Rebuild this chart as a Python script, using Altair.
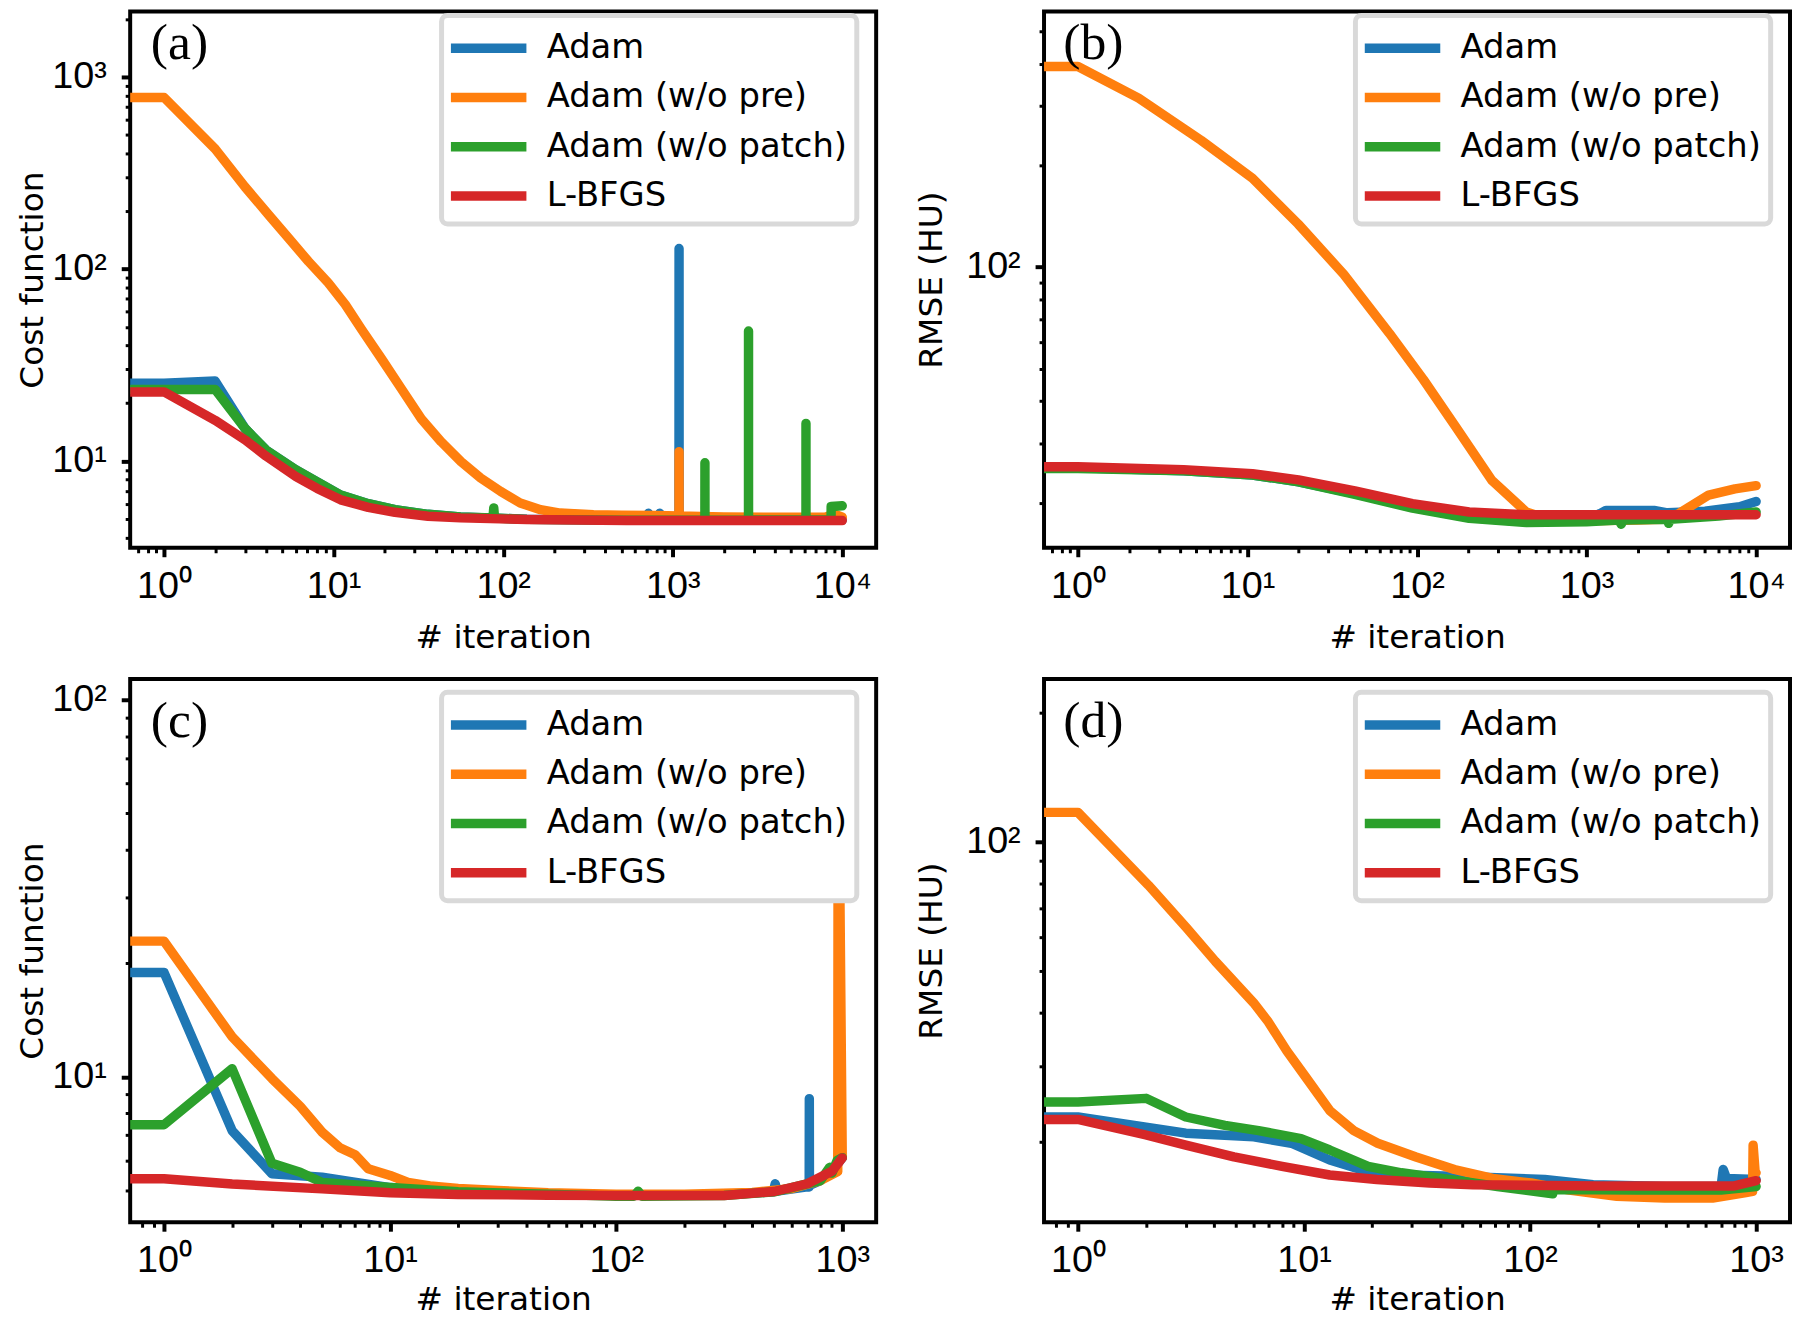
import altair as alt
import pandas as pd

SERIES = ["Adam", "Adam (w/o pre)", "Adam (w/o patch)", "L-BFGS"]
COLORS = ["#1f77b4", "#ff7f0e", "#2ca02c", "#d62728"]
PANEL_TAGS = ["(a)", "(b)", "(c)", "(d)"]
Y_TITLES = ["Cost function", "RMSE (HU)", "Cost function", "RMSE (HU)"]
X_TITLE = "# iteration"
DECADE_LABELS = {1: "10\u2070", 10: "10\u00b9", 100: "10\u00b2", 1000: "10\u00b3", 10000: "10\u2074"}

# ---------------- panel (a): cost function, 10^4 iterations ----------------
A_ADAM_X = [0.5, 1, 2, 3, 4, 6, 8, 11, 16, 23, 36, 56, 138, 534, 700, 720, 740, 820, 840, 860,
            1089, 1090, 1091, 3000, 6000, 10000]
A_ADAM_Y = [25.4, 25.4, 26.1, 14.8, 11.4, 9.0, 7.8, 6.65, 6.0, 5.58, 5.28, 5.12, 4.98, 4.93, 4.93, 5.35, 4.93,
            4.95, 5.35, 4.95, 4.95, 128, 4.95, 4.97, 4.96, 4.93]
A_PRE_X = [0.5, 1, 2, 3, 4.15, 5.44, 7.1, 9.3, 11.7, 14.6, 19.2, 25.1, 32.9, 43.1, 56.4, 73.8, 96.6, 126,
           166, 217, 341, 500, 800, 1089, 1090, 1091, 2000, 4000, 8000, 9000, 10000]
A_PRE_Y = [783, 783, 423, 268, 191, 144.5, 109.6, 84.7, 65.5, 48.6, 34.0, 23.8, 16.6, 12.6, 9.93, 8.15, 6.95,
           6.05, 5.58, 5.36, 5.25, 5.22, 5.2, 5.18, 11.2, 5.18, 5.12, 5.1, 5.12, 5.3, 5.1]
A_PATCH_X = [0.5, 1, 2, 3, 4, 6, 8, 11, 16, 23, 36, 56, 87, 88, 89, 138, 534, 1548, 1549, 1550,
             2799, 2800, 2801, 6109, 6110, 6111, 8590, 8600, 10000]
A_PATCH_Y = [23.6, 23.6, 23.6, 14.8, 11.4, 9.0, 7.8, 6.65, 6.0, 5.58, 5.28, 5.12, 5.05, 5.7, 5.05, 4.97, 4.92,
             4.92, 9.8, 4.92, 4.93, 47.6, 4.93, 4.93, 15.7, 4.93, 4.95, 5.8, 5.85]
A_LBFGS_X = [0.5, 1, 2, 3, 4, 6, 8, 11, 16, 23, 36, 56, 138, 534, 10000]
A_LBFGS_Y = [22.9, 22.9, 16.3, 12.9, 10.6, 8.3, 7.2, 6.28, 5.74, 5.41, 5.16, 5.06, 4.96, 4.90, 4.90]

# ---------------- panel (b): RMSE, 10^4 iterations ----------------
B_ADAM_X = [0.5, 1, 4.2, 10.7, 20, 43, 94, 203, 441, 1000, 1200, 1300, 2500, 3000, 5000, 8000, 10000]
B_ADAM_Y = [25.4, 25.4, 24.9, 24.2, 23.1, 21.3, 19.4, 18.1, 17.6, 17.8, 18.6, 19.0, 19.0, 18.7, 18.9, 19.5, 20.2]
B_PRE_X = [0.5, 1, 2.28, 5.33, 10.7, 19.9, 37, 68.7, 109, 174, 277, 441, 600, 1000, 2000, 2825, 3500,
           5250, 7500, 10000]
B_PRE_Y = [392, 392, 316, 237, 183, 134, 95, 63.6, 46.4, 32.9, 23.3, 18.8, 17.9, 17.7, 17.8, 17.9, 18.6,
           21.1, 22.0, 22.5]
B_PATCH_X = [0.5, 1, 4.2, 10.7, 20, 43, 94, 203, 441, 1000, 1550, 1600, 1650, 3000, 3050, 3100, 6000, 10000]
B_PATCH_Y = [25.3, 25.3, 24.9, 24.2, 23.1, 21.2, 19.3, 18.0, 17.5, 17.6, 17.8, 17.3, 17.8, 17.9, 17.4, 17.9,
             18.3, 18.8]
B_LBFGS_X = [0.5, 1, 4.2, 10.7, 20, 43, 94, 203, 441, 10000]
B_LBFGS_Y = [25.6, 25.6, 25.1, 24.4, 23.4, 21.7, 19.9, 18.8, 18.45, 18.45]

# ---------------- panel (c): cost function, 10^3 iterations ----------------
C_ADAM_X = [0.6, 1, 2, 3, 5, 10, 20, 50, 100, 300, 495, 505, 515, 700, 714, 715, 716, 800, 900, 1000]
C_ADAM_Y = [18.9, 18.9, 7.19, 5.53, 5.41, 5.08, 4.95, 4.88, 4.85, 4.86, 4.95, 5.2, 4.97, 5.1, 5.1, 8.75,
            5.15, 5.3, 5.6, 6.1]
C_PRE_X = [0.6, 1, 2, 3, 4, 5, 6, 7, 8, 10, 12, 15, 20, 30, 50, 100, 200, 400, 600, 800, 955, 960, 1000]
C_PRE_Y = [22.9, 22.9, 12.76, 9.89, 8.35, 7.13, 6.48, 6.21, 5.70, 5.47, 5.24, 5.13, 5.05, 4.99, 4.92, 4.88,
           4.88, 4.93, 5.05, 5.3, 5.6, 95, 6.2]
C_PATCH_X = [0.6, 1, 2, 3, 4, 5, 10, 20, 50, 100, 120, 125, 130, 300, 500, 800, 880, 900, 950, 1000]
C_PATCH_Y = [7.46, 7.46, 10.5, 5.89, 5.58, 5.24, 5.08, 4.95, 4.88, 4.82, 4.82, 4.97, 4.82, 4.84, 4.95, 5.3,
             5.75, 5.55, 6.0, 6.1]
C_LBFGS_X = [0.6, 1, 2, 5, 10, 20, 50, 100, 300, 500, 700, 900, 1000]
C_LBFGS_Y = [5.36, 5.36, 5.19, 5.04, 4.92, 4.87, 4.85, 4.84, 4.84, 4.96, 5.2, 5.61, 6.09]

# ---------------- panel (d): RMSE, 10^3 iterations ----------------
D_ADAM_X = [0.6, 1, 2, 3, 6, 8.8, 13, 19.2, 27, 46, 116, 190, 400, 700, 715, 740, 1000]
D_ADAM_Y = [22.8, 22.8, 21.6, 20.9, 20.5, 19.8, 18.1, 17.0, 16.7, 16.6, 16.3, 15.85, 15.7, 15.7, 17.2, 16.4, 16.3]
D_PRE_X = [0.6, 1, 2.05, 3.03, 4.05, 5.98, 6.9, 8.4, 10.2, 13, 16.6, 21.2, 31.3, 46.3, 68.3, 101, 149, 242,
           394, 642, 902, 965, 970, 990, 1000]
D_PRE_Y = [116.9, 116.9, 79.1, 62.8, 52.6, 42.1, 38.2, 32.5, 28.2, 23.6, 21.2, 19.8, 18.4, 17.2, 16.4, 16.0,
           15.4, 14.9, 14.76, 14.76, 15.2, 15.3, 19.6, 17.0, 16.9]
D_PATCH_X = [0.6, 1, 2, 3, 4.47, 6.3, 9.7, 13, 19.2, 27, 44, 71.8, 126, 127, 300, 700, 1000]
D_PATCH_Y = [24.7, 24.7, 25.2, 22.8, 21.8, 21.2, 20.3, 19.1, 17.5, 16.9, 16.3, 15.7, 15.1, 15.45, 15.4, 15.4, 15.7]
D_LBFGS_X = [0.6, 1, 2, 3, 4.9, 8, 13, 21, 36, 56, 200, 800, 1000]
D_LBFGS_Y = [22.5, 22.5, 20.7, 19.6, 18.4, 17.5, 16.7, 16.3, 16.0, 15.85, 15.75, 15.75, 16.2]

# axis ranges of each panel
X_DOM_LONG = [10 ** -0.2, 10 ** 4.2]
X_DOM_SHORT = [10 ** -0.15, 10 ** 3.15]
Y_DOMS = [[3.534, 2198.0], [14.73, 570.9], [4.11, 113.7], [12.96, 239.3]]


def log_ticks(lo, hi):
    out = []
    for e in range(-1, 5):
        for m in range(1, 10):
            v = round(m * 10.0 ** e, 6)
            if lo <= v <= hi:
                out.append(int(v) if v >= 1 else v)
    return out


MAJOR_TEST = " || ".join(f"datum.value == {k}" for k in DECADE_LABELS)
LABEL_EXPR = " : ".join(f"datum.value == {k} ? '{v}'" for k, v in DECADE_LABELS.items()) + " : ''"
TICK_SIZE = {"condition": {"test": MAJOR_TEST, "value": 9}, "value": 5}
TICK_WIDTH = {"condition": {"test": MAJOR_TEST, "value": 4}, "value": 3}
LABEL_SIZE = {"condition": {"test": MAJOR_TEST, "value": 38}, "value": 0}


def build_panel(series_data, tag, y_title, x_dom, y_dom, height, legend_y, tag_y, x_title_pad, y_title_pad):
    x_axis = alt.Axis(values=log_ticks(*x_dom), labelExpr=LABEL_EXPR, tickSize=TICK_SIZE,
                      tickWidth=TICK_WIDTH, labelFontSize=LABEL_SIZE, labelPadding=11,
                      title=X_TITLE, titlePadding=x_title_pad)
    y_axis = alt.Axis(values=log_ticks(*y_dom), labelExpr=LABEL_EXPR, tickSize=TICK_SIZE,
                      tickWidth=TICK_WIDTH, labelFontSize=LABEL_SIZE, labelPadding=15,
                      title=y_title, titlePadding=y_title_pad)
    x_scale = alt.Scale(type="log", domain=x_dom, nice=False)
    y_scale = alt.Scale(type="log", domain=y_dom, nice=False)
    legend = alt.Legend(orient="none", legendX=313.5, legendY=legend_y, title=None,
                        symbolType="M-2,0H2", symbolSize=1444, symbolStrokeWidth=9.5, symbolOffset=14.4,
                        labelOffset=34.4, labelFont="DejaVu Sans", labelFontSize=34, labelColor="black",
                        labelExpr="datum.label + '\u2009'",
                        labelLimit=600, rowPadding=6.6, padding=9, fillColor="white",
                        strokeColor="#d9d9d9", cornerRadius=6)
    color = alt.Color("series:N", scale=alt.Scale(domain=SERIES, range=COLORS), legend=legend)
    layers = []
    for name, xs, ys in series_data:
        df = pd.DataFrame({"iteration": xs, "value": ys, "series": name})
        layers.append(
            alt.Chart(df).mark_line(strokeWidth=9.5, strokeCap="round", strokeJoin="round", clip=True).encode(
                x=alt.X("iteration:Q", scale=x_scale, axis=x_axis),
                y=alt.Y("value:Q", scale=y_scale, axis=y_axis),
                color=color,
            )
        )
    label = alt.Chart(pd.DataFrame({"tag": [tag]})).mark_text(
        font="Liberation Serif", fontSize=52, align="center", baseline="middle", color="black"
    ).encode(text="tag:N", x=alt.value(49.6), y=alt.value(tag_y))
    return alt.layer(*layers, label).properties(width=751, height=height)


pa = build_panel([("Adam", A_ADAM_X, A_ADAM_Y), ("Adam (w/o pre)", A_PRE_X, A_PRE_Y),
                  ("Adam (w/o patch)", A_PATCH_X, A_PATCH_Y), ("L-BFGS", A_LBFGS_X, A_LBFGS_Y)],
                 PANEL_TAGS[0], Y_TITLES[0], X_DOM_LONG, Y_DOMS[0], 540, 4.1, 32.4, 16.5, 2.5)
pb = build_panel([("Adam", B_ADAM_X, B_ADAM_Y), ("Adam (w/o pre)", B_PRE_X, B_PRE_Y),
                  ("Adam (w/o patch)", B_PATCH_X, B_PATCH_Y), ("L-BFGS", B_LBFGS_X, B_LBFGS_Y)],
                 PANEL_TAGS[1], Y_TITLES[1], X_DOM_LONG, Y_DOMS[1], 540, 4.1, 32.4, 16.5, 17.5)
pc = build_panel([("Adam", C_ADAM_X, C_ADAM_Y), ("Adam (w/o pre)", C_PRE_X, C_PRE_Y),
                  ("Adam (w/o patch)", C_PATCH_X, C_PATCH_Y), ("L-BFGS", C_LBFGS_X, C_LBFGS_Y)],
                 PANEL_TAGS[2], Y_TITLES[2], X_DOM_SHORT, Y_DOMS[2], 547, 13.4, 42, 4, 2.5)
pd_ = build_panel([("Adam", D_ADAM_X, D_ADAM_Y), ("Adam (w/o pre)", D_PRE_X, D_PRE_Y),
                   ("Adam (w/o patch)", D_PATCH_X, D_PATCH_Y), ("L-BFGS", D_LBFGS_X, D_LBFGS_Y)],
                  PANEL_TAGS[3], Y_TITLES[3], X_DOM_SHORT, Y_DOMS[3], 547, 13.4, 42, 4, 17.5)

chart = (
    alt.concat(pa, pb, pc, pd_, columns=2, spacing={"row": 132, "column": 169}, bounds="flush")
    .resolve_scale(x="independent", y="independent", color="independent")
    .resolve_legend(color="independent")
    .properties(padding={"left": 6, "top": -3, "right": 0, "bottom": 0}, background="white")
    .configure_view(stroke="black", strokeWidth=4)
    .configure_axis(domain=False, grid=False, tickColor="black", labelColor="black", titleColor="black",
                    labelFont="Liberation Sans", labelFontSize=38, titleFont="DejaVu Sans", titleFontSize=33,
                    titleFontWeight="normal", labelFlush=False, labelOverlap=False)
    .configure_legend(strokeWidth=5)
)

chart.save("out.html", embed_options={"renderer": "svg", "actions": False})
